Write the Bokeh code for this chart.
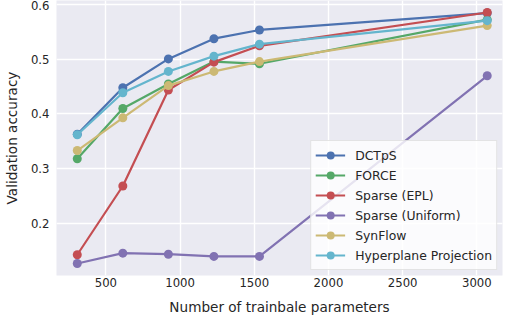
from bokeh.plotting import figure
from bokeh.models import FixedTicker, Range1d, Legend
from bokeh.embed import file_html
from bokeh.resources import INLINE

params = [307, 614, 921, 1228, 1535, 3070]
dctps = [0.363, 0.448, 0.501, 0.538, 0.554, 0.585]
force = [0.318, 0.410, 0.455, 0.496, 0.492, 0.573]
sparse_epl = [0.142, 0.268, 0.444, 0.495, 0.525, 0.586]
sparse_uniform = [0.126, 0.145, 0.143, 0.139, 0.139, 0.470]
synflow = [0.333, 0.393, 0.452, 0.478, 0.496, 0.562]
hyperplane = [0.362, 0.439, 0.478, 0.506, 0.528, 0.571]

series = [
    ("DCTpS", dctps, "#4C72B0"),
    ("FORCE", force, "#55A868"),
    ("Sparse (EPL)", sparse_epl, "#C44E52"),
    ("Sparse (Uniform)", sparse_uniform, "#8172B2"),
    ("SynFlow", synflow, "#CCB974"),
    ("Hyperplane Projection", hyperplane, "#64B5CD"),
]

x_ticks = [500, 1000, 1500, 2000, 2500, 3000]
y_ticks = [0.2, 0.3, 0.4, 0.5, 0.6]

FONT = "DejaVu Sans"
TXT = "#262626"

p = figure(width=506, height=318, output_backend="svg", toolbar_location=None,
           x_range=Range1d(167, 3173), y_range=Range1d(0.104, 0.608),
           min_border_left=51, min_border_right=4, min_border_top=0,
           min_border_bottom=43)
p.background_fill_color = "#EAEAF2"
p.border_fill_color = "white"
p.outline_line_color = None

for g in (p.xgrid, p.ygrid):
    g.grid_line_color = "white"
    g.grid_line_width = 1.4
p.xgrid.ticker = FixedTicker(ticks=x_ticks)
p.ygrid.ticker = FixedTicker(ticks=y_ticks)

for ax in (p.xaxis, p.yaxis):
    ax.axis_line_color = None
    ax.major_tick_line_color = None
    ax.minor_tick_line_color = None
    ax.major_tick_out = 0
    ax.major_tick_in = 0
    ax.major_label_text_font = FONT
    ax.major_label_text_font_size = "11.7px"
    ax.major_label_text_color = TXT
    ax.axis_label_text_font = FONT
    ax.axis_label_text_font_size = "13.6px"
    ax.axis_label_text_font_style = "normal"
    ax.axis_label_text_color = TXT

p.xaxis.ticker = FixedTicker(ticks=x_ticks)
p.yaxis.ticker = FixedTicker(ticks=y_ticks)
p.xaxis.major_label_standoff = 2
p.yaxis.major_label_standoff = 7
p.xaxis.axis_label_standoff = 9
p.yaxis.axis_label_standoff = 8
p.xaxis.axis_label = "Number of trainbale parameters"
p.yaxis.axis_label = "Validation accuracy"

items = []
for name, ys, col in series:
    r1 = p.line(params, ys, line_color=col, line_width=2.2)
    r2 = p.scatter(params, ys, marker="circle", size=9, fill_color=col, line_color=col, line_width=0)
    items.append((name, [r1, r2]))

legend = Legend(items=items, location="bottom_right", margin=5,
                padding=4, spacing=0, glyph_width=30, glyph_height=20,
                label_height=20, label_standoff=10,
                label_text_font=FONT, label_text_font_size="12.4px",
                label_text_color=TXT,
                background_fill_color="white", background_fill_alpha=0.8,
                border_line_color="#cccccc", border_line_width=1)
p.add_layout(legend)

open("out.html", "w").write(file_html(p, INLINE))
